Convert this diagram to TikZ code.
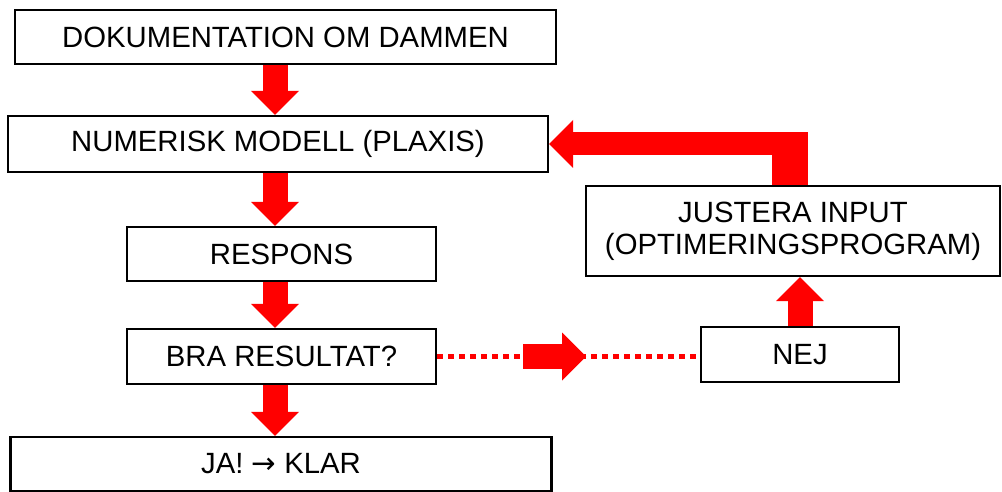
\documentclass[tikz,border=0pt]{standalone}
\usepackage{fontspec}
\setmainfont{Liberation Sans}
\newfontfamily\symbfont{DejaVu Sans}
\usepackage{tikz}
\usetikzlibrary{arrows.meta}

\begin{document}
\begin{tikzpicture}[x=1pt, y=-1pt,
  box/.style={draw, line width=2.2pt, inner sep=0pt, align=center, font=\fontsize{29.3}{32}\selectfont},
  blockarrow/.style={draw=red, line width=25pt, -{Triangle[width=48pt, length=24pt, line width=0pt]}},
  dotline/.style={draw=red, line width=5pt, dash pattern=on 6pt off 5pt}
  ]
  \useasboundingbox (0,0) rectangle (1002,492);
  \node[box, minimum width=541pt, minimum height=54pt] (dok) at (285.5,37) {DOKUMENTATION OM DAMMEN};
  \node[box, minimum width=540pt, minimum height=56pt] (num) at (278,144) {NUMERISK MODELL (PLAXIS)};
  \node[box, minimum width=309pt, minimum height=54pt] (resp) at (281.5,254) {RESPONS};
  \node[box, minimum width=309pt, minimum height=55pt] (bra) at (281.5,356.5) {BRA RESULTAT?};
  \node[box, minimum width=541pt, minimum height=54pt] (klar) at (281,464) {JA! {\symbfont →} KLAR};
  \node[box, minimum width=414pt, minimum height=90pt] (just) at (793,231) {JUSTERA INPUT\\(OPTIMERINGSPROGRAM)};
  \node[box, minimum width=198pt, minimum height=55pt] (nej) at (800,354.5) {NEJ};

  \coordinate (col) at (275,0);
  \draw[blockarrow] (dok.south -| col) -- (num.north -| col);
  \draw[blockarrow] (num.south -| col) -- (resp.north -| col);
  \draw[blockarrow] (resp.south -| col) -- (bra.north -| col);
  \draw[blockarrow] (bra.south -| col) -- (klar.north -| col);

  \draw[dotline] (bra.east) -- (bra.east -| nej.west);
  \coordinate (mid1) at (523,356.5);
  \coordinate (mid2) at (586,356.5);
  \draw[blockarrow] (mid1) -- (mid2);

  \draw[blockarrow] (nej.north) -- (nej.north |- just.south);

  \coordinate (fb) at (790,132.5);
  \coordinate (fbend) at (808,144);
  \draw[red, line width=36pt] (fb |- just.north) -- (fb);
  \draw[blockarrow, line width=23pt] (fbend) -- (num.east);
\end{tikzpicture}
\end{document}
